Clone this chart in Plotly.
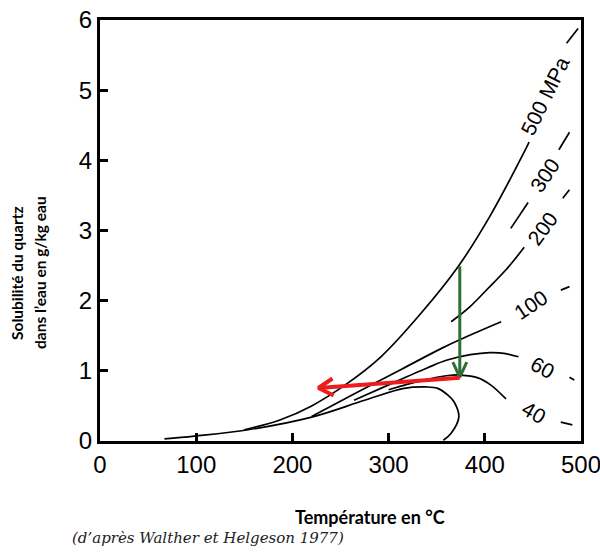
import math
import plotly.graph_objects as go

# ---------------- data (temperature °C, solubility g/kg) ----------------
x_ticks = [0, 100, 200, 300, 400, 500]
y_ticks = [0, 1, 2, 3, 4, 5, 6]

# liquid-vapour saturation curve (unlabelled loop)
t_sat = [67, 98, 154, 220, 275, 316, 339, 351, 362, 368, 373, 365, 357]
s_sat = [0.03, 0.07, 0.16, 0.34, 0.58, 0.75, 0.77, 0.75, 0.65, 0.56, 0.34, 0.11, 0.01]

t_500 = [150, 187, 220, 256, 292, 333, 372, 406, 441, 446]
s_500 = [0.16, 0.30, 0.50, 0.81, 1.20, 1.81, 2.48, 3.22, 4.12, 4.26]

t_300 = [427, 445]
s_300 = [3.03, 3.40]

t_200 = [365, 385, 403, 422, 441]
s_200 = [1.70, 1.92, 2.17, 2.44, 2.76]

t_100 = [220, 264, 313, 355, 375, 417]
s_100 = [0.35, 0.67, 1.02, 1.32, 1.45, 1.70]

t_60 = [264, 300, 340, 360, 385, 405, 420, 435]
s_60 = [0.58, 0.80, 1.04, 1.15, 1.23, 1.26, 1.25, 1.20]

t_40 = [300, 334, 360, 375, 393, 406, 422]
s_40 = [0.73, 0.86, 0.93, 0.94, 0.90, 0.80, 0.60]

# short dashes after each label
tail_t = {"500": [485, 497], "300": [477, 488], "200": [481, 488],
          "100": [479, 488], "60": [488, 493], "40": [479, 491]}
tail_s = {"500": [5.67, 5.88], "300": [4.15, 4.40], "200": [3.46, 3.58],
          "100": [2.15, 2.20], "60": [0.91, 0.87], "40": [0.27, 0.23]}

# isobar labels
label_text = ["500 MPa", "300", "200", "100", "60", "40"]
label_t = [463, 462, 460, 448, 460, 451]
label_s = [4.92, 3.79, 3.03, 1.95, 1.05, 0.40]
label_angle = [-64, -56, -54, -34, 29, 30]

# arrows (tail -> head)
green_t = [374, 374]
green_s = [2.49, 0.91]
red_t = [374, 227]
red_s = [0.90, 0.755]

# ---------------- layout geometry ----------------
W, H = 600, 552
ML, MR, MT, MB = 100, 19, 20, 111
PW, PH = W - ML - MR, H - MT - MB
kx = PW / 500.0
ky = PH / 6.0


def px_x(px):
    return (px - ML) / PW


def px_y(py):
    return (H - MB - py) / PH


fig = go.Figure()

curve_line = dict(color="black", width=1.7, shape="spline", smoothing=1.0)
for t, s in [(t_sat, s_sat), (t_500, s_500), (t_200, s_200), (t_100, s_100),
             (t_60, s_60), (t_40, s_40)]:
    fig.add_trace(go.Scatter(x=t, y=s, mode="lines", line=curve_line,
                             hoverinfo="skip"))
fig.add_trace(go.Scatter(x=t_300, y=s_300, mode="lines",
                         line=dict(color="black", width=1.7), hoverinfo="skip"))
for k in tail_t:
    fig.add_trace(go.Scatter(x=tail_t[k], y=tail_s[k], mode="lines",
                             line=dict(color="black", width=1.7),
                             hoverinfo="skip"))


def chevron(tt, ss, length, half_angle):
    # arms of an open arrow head, built in pixel space from the arrow data
    dx = (tt[1] - tt[0]) * kx
    dy = (ss[1] - ss[0]) * ky
    n = math.hypot(dx, dy)
    bx, by = -dx / n, -dy / n
    xs, ys = [], []
    for sign in (1, -1):
        a = math.radians(sign * half_angle)
        rx = bx * math.cos(a) - by * math.sin(a)
        ry = bx * math.sin(a) + by * math.cos(a)
        xs.append(tt[1] + rx * length / kx)
        ys.append(ss[1] + ry * length / ky)
    return [xs[0], tt[1], xs[1]], [ys[0], ss[1], ys[1]]


for tt, ss, col, w, ln, ha in [(green_t, green_s, "#2d6e35", 3, 16.5, 25),
                               (red_t, red_s, "#ee1d1d", 4, 17, 30)]:
    fig.add_trace(go.Scatter(x=tt, y=ss, mode="lines",
                             line=dict(color=col, width=w), hoverinfo="skip"))
    cx, cy = chevron(tt, ss, ln, ha)
    fig.add_trace(go.Scatter(x=cx, y=cy, mode="lines",
                             line=dict(color=col, width=w), hoverinfo="skip"))

annotations = []
for txt, t, s, ang in zip(label_text, label_t, label_s, label_angle):
    annotations.append(dict(x=t, y=s, xref="x", yref="y", text=txt,
                            showarrow=False, textangle=ang,
                            xanchor="center", yanchor="middle",
                            font=dict(family="Liberation Sans, Arial", size=21,
                                      color="black")))

# axis titles and source
annotations.append(dict(x=px_x(370), y=px_y(517), xref="paper", yref="paper",
                        text="<b>Température en °C</b>", showarrow=False,
                        xanchor="center", yanchor="middle",
                        font=dict(family="Lato", size=18, color="black")))
annotations.append(dict(x=px_x(17), y=px_y(273), xref="paper", yref="paper",
                        text="<b>Solubilité du quartz</b>", showarrow=False,
                        textangle=-90, xanchor="center", yanchor="middle",
                        font=dict(family="Lato", size=15.5, color="black")))
annotations.append(dict(x=px_x(40), y=px_y(273), xref="paper", yref="paper",
                        text="<b>dans l’eau en g/kg eau</b>", showarrow=False,
                        textangle=-90, xanchor="center", yanchor="middle",
                        font=dict(family="Lato", size=15.5, color="black")))
annotations.append(dict(x=px_x(70), y=px_y(538), xref="paper", yref="paper",
                        text="<i>(d’après Walther et Helgeson 1977)</i>",
                        showarrow=False, xanchor="left", yanchor="middle",
                        font=dict(family="DejaVu Serif", size=15,
                                  color="#222222")))

axis_common = dict(showline=True, linewidth=3, linecolor="black", mirror=True,
                   ticks="inside", ticklen=8, tickwidth=2.5, tickcolor="black",
                   showgrid=False, zeroline=False, ticklabeloverflow="allow",
                   tickfont=dict(family="Liberation Sans, Arial", size=24,
                                 color="black"))

fig.update_xaxes(range=[0, 500], tickvals=x_ticks,
                 ticktext=[str(v) for v in x_ticks], **axis_common)
fig.update_yaxes(range=[0, 6], tickvals=y_ticks,
                 ticktext=[str(v) for v in y_ticks], **axis_common)

fig.update_layout(width=W, height=H,
                  margin=dict(l=ML, r=MR, t=MT, b=MB, autoexpand=False),
                  plot_bgcolor="white", paper_bgcolor="white",
                  showlegend=False, annotations=annotations)

fig.write_html("out.html")
